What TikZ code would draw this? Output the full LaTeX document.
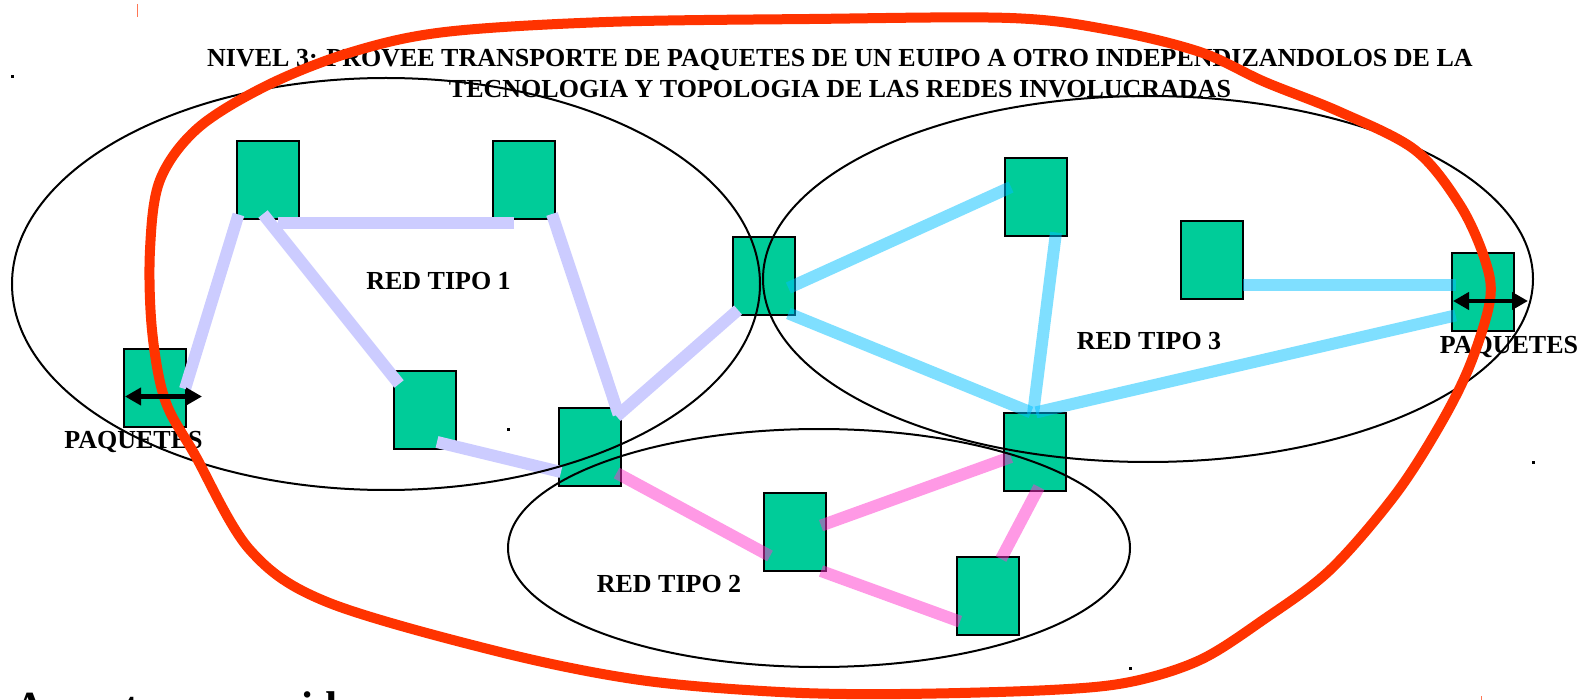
\documentclass[tikz,border=0pt]{standalone}
\usepackage{fontspec}
\setmainfont{Liberation Serif}
\usetikzlibrary{arrows.meta,calc}
\definecolor{boxgreen}{HTML}{00CC99}
\definecolor{lav}{HTML}{CCCCFF}
\definecolor{cyanl}{HTML}{00BFFF}
\definecolor{pinkl}{HTML}{FF33CC}
\definecolor{redl}{HTML}{FF3300}
\definecolor{tickred}{HTML}{FF7755}
\begin{document}
\begin{tikzpicture}[x=1pt,y=-1pt,
  dev/.style={draw=black, line width=2pt, fill=boxgreen, minimum width=62pt, minimum height=78pt, inner sep=0pt},
  lavlink/.style={draw=lav, line width=12pt},
  cyanlink/.style={draw=cyanl, draw opacity=0.5, line width=12pt},
  pinklink/.style={draw=pinkl, draw opacity=0.5, line width=12pt},
  ring/.style={draw=black, line width=2pt},
  redloop/.style={draw=redl, line width=10pt},
  lbl/.style={font=\fontsize{26}{31}\selectfont\bfseries, inner sep=0pt, anchor=base},
  dblarrow/.style={line width=4.5pt, {Triangle[length=16pt,width=17pt]}-{Triangle[length=16pt,width=17pt]}},
  speck/.style={fill=black, minimum size=3pt, inner sep=0pt}]
\useasboundingbox (0,0) rectangle (1585,700);
% devices
\node[dev] (b1) at (267.5,180.5) {};
\node[dev] (b2) at (524,180.5) {};
\node[dev] (b3) at (155,388) {};
\node[dev] (b4) at (425,410) {};
\node[dev] (b5) at (590,447) {};
\node[dev] (b6) at (764,276) {};
\node[dev] (b7) at (1036,197) {};
\node[dev] (b8) at (1212,260) {};
\node[dev] (b9) at (1483,292) {};
\node[dev] (b10) at (1035,452) {};
\node[dev] (b11) at (795,532) {};
\node[dev] (b12) at (988,596) {};
% red tipo 1 links
\draw[lavlink] ($(b3)+(30,1)$) -- ($(b1)+(-29,34)$);
\draw[lavlink] ($(b1)+(-4.5,33.5)$) -- ($(b4)+(-26,-26)$);
\draw[lavlink] ($(b1)+(10.5,42.5)$) -- ($(b2)+(-10.5,42.5)$);
\draw[lavlink] ($(b2)+(28,33.5)$) -- ($(b5)+(28.6,-32.6)$);
\draw[lavlink] ($(b5)+(26.6,-30.6)$) -- ($(b6)+(-26,34)$);
\draw[lavlink] ($(b4)+(12,32)$) -- ($(b5)+(-29,25)$);
% red tipo 3 links
\draw[cyanlink] ($(b6)+(24.4,12)$) -- ($(b7)+(-25,-10)$);
\draw[cyanlink] ($(b7)+(20,35.5)$) -- ($(b10)+(-2,-37.6)$);
\draw[cyanlink] ($(b6)+(24.4,37.4)$) -- ($(b10)+(-4,-39.6)$);
\draw[cyanlink] ($(b8)+(31,25)$) -- ($(b9)+(-27.4,-7)$);
\draw[cyanlink] ($(b10)+(1,-39.6)$) -- ($(b9)+(-27.4,23.4)$);
% red tipo 2 links
\draw[pinklink] ($(b5)+(26.6,26)$) -- ($(b11)+(-25,24)$);
\draw[pinklink] ($(b11)+(26,-6.4)$) -- ($(b10)+(-24,5)$);
\draw[pinklink] ($(b11)+(26,39)$) -- ($(b12)+(-28,25.6)$);
\draw[pinklink] ($(b12)+(13,-37)$) -- ($(b10)+(4,35)$);
% texts
\node[lbl] (t1) at (840,67) {NIVEL 3: PROVEE TRANSPORTE DE PAQUETES DE UN EUIPO A OTRO INDEPENDIZANDOLOS DE LA};
\node[lbl] (t2) at (840,98) {TECNOLOGIA Y TOPOLOGIA DE LAS REDES INVOLUCRADAS};
\node[lbl] (r1) at (438.5,289.5) {RED TIPO 1};
\node[lbl] (r2) at (669,592.5) {RED TIPO 2};
\node[lbl] (r3) at (1149,349.5) {RED TIPO 3};
\node[lbl] (p1) at (133.5,448) {PAQUETES};
\node[lbl] (p2) at (1509,353.5) {PAQUETES};
\begin{scope}
\clip (0,0) rectangle (1585,700);
\node[font=\fontsize{43}{50}\selectfont\bfseries, inner sep=0pt, anchor=base west] (bt) at (14.6,721) {Aspectos a considerar};
\end{scope}
% network outlines
\draw[ring] (386,284) ellipse [x radius=374pt, y radius=206pt];
\draw[ring] (1148,279) ellipse [x radius=385pt, y radius=183pt];
\draw[ring] (819,548) ellipse [x radius=311pt, y radius=119pt];
% level 3 loop
\draw[redloop] plot[smooth cycle, tension=0.55] coordinates {
 (606,22) (810,19) (1010,18) (1110,30) (1200,52) (1265,82) (1340,112) (1415,150)
 (1460,205) (1485,260) (1490,300) (1470,365) (1440,425) (1395,495) (1330,570)
 (1263,620) (1200,660) (1130,682) (1050,690) (900,694) (780,692) (640,680)
 (500,652) (327,602) (250,550) (195,455) (165,400) (152,330) (150,250) (160,180)
 (198,128) (268,85) (352,52) (445,32)};
% packet arrows
\coordinate (a1s) at ($(b3)+(-30,8.5)$);
\coordinate (a1e) at ($(b3)+(47,8.5)$);
\coordinate (a2s) at ($(b9)+(-30,9)$);
\coordinate (a2e) at ($(b9)+(45,9)$);
\draw[dblarrow] (a1s) -- (a1e);
\draw[dblarrow] (a2s) -- (a2e);
% specks
\node[speck] (s1) at (12.7,76.7) {};
\node[speck] (s2) at (508,429) {};
\node[speck] (s3) at (1130,668) {};
\node[speck] (s4) at (1533,462) {};
\draw[tickred, line width=1pt] (137.3,4) -- (137.3,17);
\draw[tickred, line width=1pt] (1481.7,696) -- (1481.7,700);
\end{tikzpicture}
\end{document}
